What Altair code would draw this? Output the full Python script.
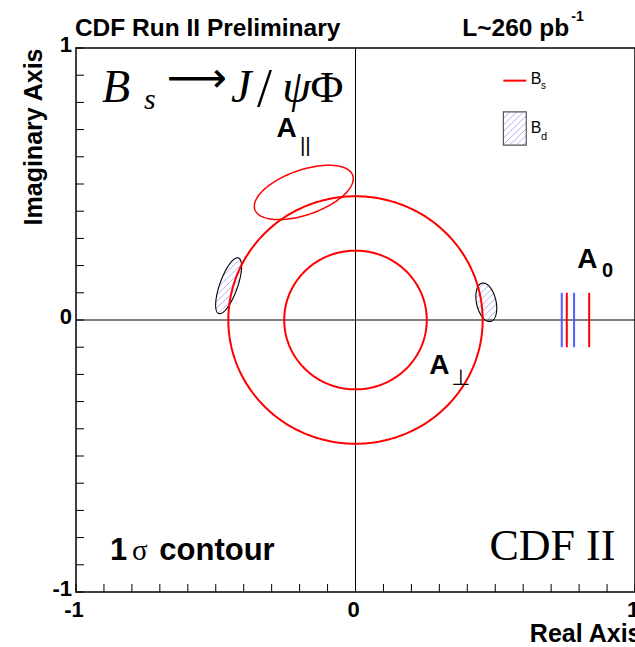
import altair as alt
import numpy as np
import pandas as pd

# ---------------------------------------------------------------------------
# Transversity amplitudes of Bs -> J/psi Phi (and Bd) in the complex plane
# ---------------------------------------------------------------------------

# |A_perp| for Bs: phase unconstrained, so the 1-sigma band is a ring
ring_radius = [0.255, 0.455]

# 1-sigma ellipses: centre, semi-axes (data units) and tilt in degrees
ell_name = ["Apar_Bs", "Apar_Bd", "Aperp_Bd"]
ell_sample = ["Bs", "Bd", "Bd"]
ell_cx = [-0.185, -0.454, 0.468]
ell_cy = [0.469, 0.126, 0.065]
ell_a = [0.186, 0.108, 0.072]
ell_b = [0.082, 0.032, 0.035]
ell_tilt = [20, 71, 102]

# A_0 is real: edges of the 1-sigma intervals drawn on the real axis
a0_edge = [0.738, 0.756, 0.782, 0.836]
a0_sample = ["Bd", "Bs", "Bd", "Bs"]
a0_half = 0.10

# axis ticks / labels
tick_values = [round(-1 + 0.1 * i, 1) for i in range(21)]
label_values = [-1, 0, 1]
label_text = ["-1", "0", "1"]

# legend entries (box for Bd, line for Bs)
leg_line_x = [0.529, 0.611]
leg_line_y = 0.88
leg_box_x = [0.529, 0.611]
leg_box_y = [0.643, 0.765]

RED = "#ff0000"
BLUE = "#5a5aff"
HATCH = "#9a9aff"
HATCH_STEP = 0.017
N_PTS = 241

# ---------------------------------------------------------------------------
# geometry tables
# ---------------------------------------------------------------------------
t = np.linspace(0, 2 * np.pi, N_PTS)

ring_rows = []
for k, r in enumerate(ring_radius):
    for i, tt in enumerate(t):
        ring_rows.append(dict(shape=f"ring{k}", i=i, x=r * np.cos(tt), y=r * np.sin(tt)))
rings = pd.DataFrame(ring_rows)

ell_rows = []
for name, smp, cx, cy, a, b, tilt in zip(ell_name, ell_sample, ell_cx, ell_cy, ell_a, ell_b, ell_tilt):
    th = np.radians(tilt)
    for i, tt in enumerate(t):
        ex, ey = a * np.cos(tt), b * np.sin(tt)
        ell_rows.append(dict(shape=name, sample=smp, i=i,
                             x=cx + ex * np.cos(th) - ey * np.sin(th),
                             y=cy + ex * np.sin(th) + ey * np.cos(th)))
ellipses = pd.DataFrame(ell_rows)


def ellipse_hatch(cx, cy, a, b, tilt):
    """45-degree hatch segments clipped to a tilted ellipse."""
    th = np.radians(tilt)
    u = np.array([1.0, 1.0]) / np.sqrt(2)
    n = np.array([1.0, -1.0]) / np.sqrt(2)
    rot = np.array([[np.cos(th), np.sin(th)], [-np.sin(th), np.cos(th)]])
    uq, nq = rot @ u, rot @ n
    qa = uq[0] ** 2 / a ** 2 + uq[1] ** 2 / b ** 2
    out = []
    lim = max(a, b)
    for c in np.arange(-lim, lim + 1e-9, HATCH_STEP):
        qb = 2 * c * (nq[0] * uq[0] / a ** 2 + nq[1] * uq[1] / b ** 2)
        qc = c ** 2 * (nq[0] ** 2 / a ** 2 + nq[1] ** 2 / b ** 2) - 1
        disc = qb * qb - 4 * qa * qc
        if disc <= 0:
            continue
        s1 = (-qb - np.sqrt(disc)) / (2 * qa)
        s2 = (-qb + np.sqrt(disc)) / (2 * qa)
        p1 = np.array([cx, cy]) + c * n + s1 * u
        p2 = np.array([cx, cy]) + c * n + s2 * u
        out.append(dict(x=p1[0], y=p1[1], x2=p2[0], y2=p2[1]))
    return out


def box_hatch(x0, x1, y0, y1):
    """45-degree hatch segments clipped to a rectangle."""
    out = []
    step = HATCH_STEP * np.sqrt(2)
    for k in np.arange(x0 - y1, x1 - y0, step):
        xa, xb = max(x0, y0 + k), min(x1, y1 + k)
        if xb > xa:
            out.append(dict(x=xa, y=xa - k, x2=xb, y2=xb - k))
    return out


hatch_rows = []
for smp, cx, cy, a, b, tilt in zip(ell_sample, ell_cx, ell_cy, ell_a, ell_b, ell_tilt):
    if smp == "Bd":
        hatch_rows += ellipse_hatch(cx, cy, a, b, tilt)
hatch_rows += box_hatch(leg_box_x[0], leg_box_x[1], leg_box_y[0], leg_box_y[1])
hatch = pd.DataFrame(hatch_rows)

a0 = pd.DataFrame(dict(x=a0_edge, y=[-a0_half] * 4, y2=[a0_half] * 4, sample=a0_sample))
ticks = pd.DataFrame(dict(v=tick_values))
labels = pd.DataFrame(dict(v=label_values, text=label_text))
zero = pd.DataFrame(dict(v=[0.0]))

# ---------------------------------------------------------------------------
# encodings
# ---------------------------------------------------------------------------
xs = alt.Scale(domain=[-1, 1], nice=False, zero=False)
ys = alt.Scale(domain=[-1, 1], nice=False, zero=False)
x_axis = alt.Axis(values=label_values, labels=False, title="Real Axis", titleAnchor="end",
                  titleAlign="right", titleBaseline="alphabetic", titleX=565, titleY=49)
y_axis = alt.Axis(values=label_values, labels=False, title="Imaginary Axis", titleAngle=-90,
                  titleAlign="right", titleBaseline="alphabetic", titleX=-35, titleY=0)


def X(f="x"):
    return alt.X(f"{f}:Q", scale=xs, axis=x_axis)


def Y(f="y"):
    return alt.Y(f"{f}:Q", scale=ys, axis=y_axis)


zero_v = alt.Chart(zero).mark_rule(color="black", strokeWidth=1).encode(x=X("v"))
zero_h = alt.Chart(zero).mark_rule(color="black", strokeWidth=1).encode(y=Y("v"))

hatch_layer = alt.Chart(hatch).mark_rule(color=HATCH, strokeWidth=0.8).encode(
    x=X(), y=Y(), x2="x2:Q", y2="y2:Q")

ring_layer = alt.Chart(rings).mark_line(color=RED, strokeWidth=2).encode(
    x=X(), y=Y(), detail="shape:N", order="i:Q")

bs_ell = alt.Chart(ellipses[ellipses["sample"] == "Bs"]).mark_line(
    color=RED, strokeWidth=1.5).encode(x=X(), y=Y(), detail="shape:N", order="i:Q")
bd_ell = alt.Chart(ellipses[ellipses["sample"] == "Bd"]).mark_line(
    color="black", strokeWidth=1.1).encode(x=X(), y=Y(), detail="shape:N", order="i:Q")

a0_layer = alt.Chart(a0).mark_rule(strokeWidth=2).encode(
    x=X(), y=Y(), y2="y2:Q",
    color=alt.Color("sample:N", scale=alt.Scale(domain=["Bs", "Bd"], range=[RED, BLUE]),
                    legend=None))

# inward-pointing ticks on the bottom and left frame edges
x_ticks = alt.Chart(ticks).mark_rule(color="black", strokeWidth=1).encode(
    x=X("v"), y=alt.value(544), y2=alt.value(536))
y_ticks = alt.Chart(ticks).mark_rule(color="black", strokeWidth=1).encode(
    y=Y("v"), x=alt.value(0), x2=alt.value(8))

# tick labels
x_labels = alt.Chart(labels).mark_text(
    font="Liberation Sans", fontWeight="bold", fontSize=22, align="center",
    baseline="alphabetic", dx=-2).encode(x=X("v"), y=alt.value(569), text="text:N")
y_labels = alt.Chart(labels).mark_text(
    font="Liberation Sans", fontWeight="bold", fontSize=22, align="right",
    baseline="middle", dy=-3).encode(y=Y("v"), x=alt.value(-4), text="text:N")

# legend
leg_line = alt.Chart(pd.DataFrame(dict(x=[leg_line_x[0]], x2=[leg_line_x[1]], y=[leg_line_y]))).mark_rule(
    color=RED, strokeWidth=2).encode(x=X(), x2="x2:Q", y=Y())
leg_box = alt.Chart(pd.DataFrame(dict(x=[leg_box_x[0]], x2=[leg_box_x[1]],
                                      y=[leg_box_y[0]], y2=[leg_box_y[1]]))).mark_rect(
    fillOpacity=0, stroke="#555555", strokeWidth=1.2).encode(x=X(), x2="x2:Q", y=Y(), y2="y2:Q")

# ---------------------------------------------------------------------------
# text
# ---------------------------------------------------------------------------
bold_text = pd.DataFrame([
    ("CDF Run II Preliminary", -1.004, 1.044, 24.5),
    ("L~260 pb", 0.382, 1.044, 24.5),
    ("-1", 0.772, 1.098, 14),
    ("A", -0.283, 0.673, 28),
    ("A", 0.793, 0.191, 28),
    ("0", 0.882, 0.158, 20),
    ("A", 0.264, -0.199, 28),
    ("1", -0.878, -0.882, 31),
    ("contour", -0.702, -0.882, 31),
], columns=["text", "x", "y", "size"])

plain_text = pd.DataFrame([
    ("||", -0.199, 0.618, 21),
    ("B", 0.627, 0.867, 16),
    ("s", 0.664, 0.849, 10),
    ("B", 0.627, 0.687, 16),
    ("d", 0.664, 0.662, 11),
], columns=["text", "x", "y", "size"])

sym_text = pd.DataFrame([
    ("\u22a5", 0.343, -0.239, 22),
    ("\u27f6", -0.675, 0.838, 42),
], columns=["text", "x", "y", "size"])

serif_italic = pd.DataFrame([
    ("B", -0.907, 0.801, 46),
    ("s", -0.757, 0.776, 30),
    ("J", -0.445, 0.801, 46),
    ("\u03c8", -0.262, 0.801, 46),
], columns=["text", "x", "y", "size"])

serif_plain = pd.DataFrame([
    ("/", -0.352, 0.786, 54),
    ("\u03a6", -0.161, 0.801, 45),
    ("\u03c3", -0.80, -0.882, 29),
    ("CDF II", 0.479, -0.882, 44),
], columns=["text", "x", "y", "size"])


def text_layer(df, font, weight="normal", style="normal"):
    return alt.Chart(df).mark_text(
        align="left", baseline="alphabetic", font=font, fontWeight=weight,
        fontStyle=style, color="black").encode(
        x=X(), y=Y(), text="text:N", size=alt.Size("size:Q", scale=None))


texts = [
    text_layer(bold_text, "Liberation Sans", weight="bold"),
    text_layer(plain_text, "Liberation Sans"),
    text_layer(sym_text, "DejaVu Sans"),
    text_layer(serif_italic, "Liberation Serif", style="italic"),
    text_layer(serif_plain, "Liberation Serif"),
]

chart = alt.layer(
    zero_v, zero_h, hatch_layer, bd_ell, ring_layer, bs_ell, a0_layer,
    x_ticks, y_ticks, x_labels, y_labels, leg_line, leg_box, *texts
).properties(
    width=559, height=544, autosize="none",
    padding={"left": 76, "top": 48, "right": 0, "bottom": 55},
).configure_view(
    stroke="black", strokeWidth=1.5
).configure_axis(
    ticks=False, domain=False, grid=False,
    titleFont="Liberation Sans", titleFontWeight="bold", titleFontSize=25, titleColor="black",
)

chart.save("out.html", embed_options={"renderer": "svg", "actions": False})
